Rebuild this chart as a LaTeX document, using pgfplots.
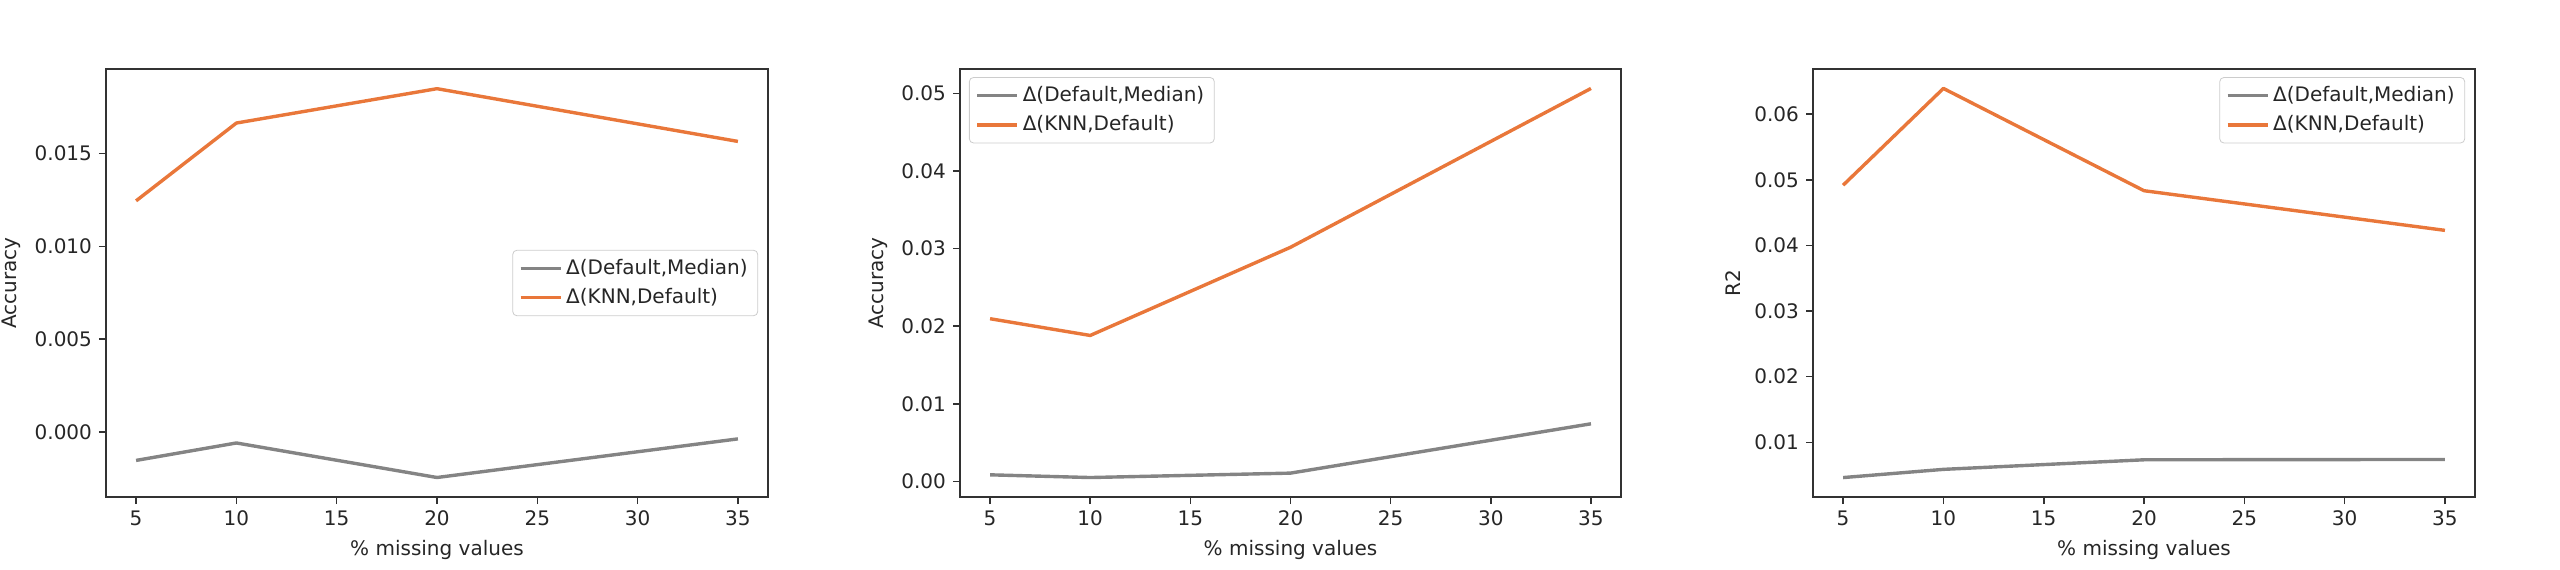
\documentclass[border=0pt]{standalone}
\usepackage{fontspec}
\setmainfont{DejaVu Sans}
\usepackage{pgfplots}
\pgfplotsset{compat=1.18}
\definecolor{mgray}{RGB}{132,132,132}
\definecolor{morange}{RGB}{233,119,58}
\definecolor{axgray}{RGB}{50,50,50}
\pgfplotsset{
  panel/.style={
    scale only axis, width=331pt, height=214pt, anchor=south west,
    xmin=3.5, xmax=36.5, xtick={5,10,15,20,25,30,35},
    scaled y ticks=false,
    tick align=outside, major tick length=3.5pt,
    xtick pos=left, ytick pos=left,
    tick style={axgray, line width=0.8pt},
    axis line style={axgray, line width=0.9pt},
    /pgf/number format/assume math mode=true,
    ticklabel style={font=\fontsize{10}{12}\selectfont, text=black!85},
    label style={font=\fontsize{10}{12}\selectfont, text=black!85},
    xlabel={\% missing values},
    legend cell align=left,
    legend style={draw=black!20, rounded corners=2pt, fill=white,
      font=\fontsize{10}{12}\selectfont, text=black!85,
      inner xsep=3pt, inner ysep=2.5pt, row sep=1.5pt},
    legend image code/.code={\draw[##1] (0pt,0pt) -- (20pt,0pt);},
  },
  every axis plot/.append style={line width=1.7pt, line join=round},
}
\begin{document}
\begin{tikzpicture}
\useasboundingbox (0,0) rectangle (1280pt,284.5pt);
% Panel 1
\begin{axis}[panel, at={(53pt,36pt)},
  ymin=-0.0035, ymax=0.01955,
  ytick={0,0.005,0.010,0.015},
  yticklabel style={/pgf/number format/.cd, fixed, fixed zerofill, precision=3},
  ylabel={Accuracy},
  legend style={at={(0.985,0.5)}, anchor=east}]
\addplot[mgray] coordinates {(5,-0.00153) (10,-0.00059) (20,-0.00245) (35,-0.00037)};
\addlegendentry{Δ(Default,Median)}
\addplot[morange] coordinates {(5,0.01245) (10,0.01664) (20,0.01849) (35,0.01565)};
\addlegendentry{Δ(KNN,Default)}
\end{axis}
% Panel 2
\begin{axis}[panel, at={(480pt,36pt)}, width=330.5pt,
  ymin=-0.00202, ymax=0.05317,
  ytick={0,0.01,0.02,0.03,0.04,0.05},
  yticklabel style={/pgf/number format/.cd, fixed, fixed zerofill, precision=2},
  ylabel={Accuracy},
  legend style={at={(0.0136,0.981)}, anchor=north west}]
\addplot[mgray] coordinates {(5,0.00084) (10,0.00049) (20,0.00106) (35,0.00742)};
\addlegendentry{Δ(Default,Median)}
\addplot[morange] coordinates {(5,0.02097) (10,0.01881) (20,0.03018) (35,0.05066)};
\addlegendentry{Δ(KNN,Default)}
\end{axis}
% Panel 3
\begin{axis}[panel, at={(906.5pt,36pt)},
  ymin=0.00167, ymax=0.06687,
  ytick={0.01,0.02,0.03,0.04,0.05,0.06},
  yticklabel style={/pgf/number format/.cd, fixed, fixed zerofill, precision=2},
  ylabel={R2},
  legend style={at={(0.985,0.981)}, anchor=north east}]
\addplot[mgray] coordinates {(5,0.00463) (10,0.00588) (20,0.00734) (35,0.00739)};
\addlegendentry{Δ(Default,Median)}
\addplot[morange] coordinates {(5,0.04917) (10,0.06391) (20,0.04833) (35,0.04229)};
\addlegendentry{Δ(KNN,Default)}
\end{axis}
\end{tikzpicture}
\end{document}
